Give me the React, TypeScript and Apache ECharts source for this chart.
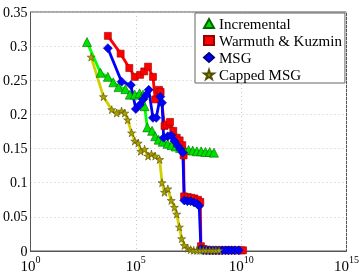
import React, { useEffect, useRef } from "react";
import * as echarts from "echarts";

const seriesNames = ["Incremental", "Warmuth & Kuzmin", "MSG", "Capped MSG"];

const incX = [4.8e2, 2.1e3, 4.7e3, 8.5e3, 1.5e4, 3.2e4, 5.2e4, 8.9e4, 1.5e5, 2.2e5, 2.6e5, 3.5e5, 5.9e5, 8.3e5, 1.2e6, 1.9e6, 3.2e6, 5.0e6, 7.9e6, 1.26e7, 2.0e7, 3.2e7, 5.0e7, 7.9e7, 1.26e8, 2.0e8, 3.2e8, 5.1e8];
const incY = [0.306, 0.261, 0.255, 0.247, 0.240, 0.237, 0.229, 0.229, 0.231, 0.229, 0.212, 0.181, 0.176, 0.168, 0.163, 0.160, 0.157, 0.155, 0.153, 0.151, 0.149, 0.148, 0.147, 0.146, 0.146, 0.145, 0.145, 0.144];

const wkX = [4.7e3, 1.9e4, 4.9e4, 8.9e4, 1.6e5, 2.5e5, 3.8e5, 6.5e5, 8.3e5, 1.26e6, 1.5e6, 2.3e6, 2.95e6, 4.2e6, 6.0e6, 8.7e6, 1.2e7, 1.6e7, 1.86e7, 1.95e7, 2.9e7, 4.2e7, 6.0e7, 8.9e7, 1.15e8, 1.23e8, 1.6e8, 2.2e8, 3.2e8, 4.5e8, 6.3e8, 8.9e8, 1.26e9, 1.8e9, 2.5e9, 3.5e9, 5.0e9, 7.1e9, 1.0e10, 1.23e10];
const wkY = [0.315, 0.289, 0.268, 0.255, 0.258, 0.263, 0.270, 0.255, 0.222, 0.236, 0.233, 0.183, 0.185, 0.189, 0.176, 0.166, 0.162, 0.155, 0.140, 0.080, 0.079, 0.078, 0.077, 0.075, 0.072, 0.007, 0.003, 0.002, 0.001, 0.001, 0.001, 0.001, 0.001, 0.001, 0.001, 0.001, 0.001, 0.001, 0.001, 0.001];

const msgX = [4.7e3, 2.1e4, 5.8e4, 1.0e5, 1.55e5, 2.2e5, 3.0e5, 4.1e5, 6.5e5, 9.3e5, 1.45e6, 1.75e6, 2.1e6, 3.3e6, 4.8e6, 6.8e6, 9.8e6, 1.3e7, 1.7e7, 2.0e7, 2.8e7, 4.0e7, 5.9e7, 8.3e7, 1.02e8, 1.23e8, 1.6e8, 2.2e8, 3.2e8, 4.5e8, 6.3e8, 8.9e8, 1.26e9, 1.8e9, 2.5e9, 3.5e9, 5.0e9, 7.8e9];
const msgY = [0.297, 0.248, 0.243, 0.208, 0.214, 0.222, 0.228, 0.236, 0.195, 0.195, 0.226, 0.217, 0.166, 0.168, 0.169, 0.161, 0.154, 0.149, 0.144, 0.074, 0.073, 0.073, 0.071, 0.069, 0.066, 0.003, 0.001, 0.001, 0.001, 0.001, 0.001, 0.001, 0.001, 0.001, 0.001, 0.001, 0.001, 0.001];

const capX = [7.6e2, 2.9e3, 7.2e3, 1.23e4, 2.1e4, 3.0e4, 4.1e4, 6.3e4, 8.9e4, 1.3e5, 1.7e5, 2.6e5, 3.8e5, 5.5e5, 8.3e5, 1.35e6, 1.75e6, 2.3e6, 3.3e6, 4.8e6, 6.8e6, 8.7e6, 1.17e7, 1.5e7, 2.0e7, 2.9e7, 4.0e7, 5.6e7, 7.9e7, 1.12e8, 1.6e8, 2.2e8, 3.2e8, 4.5e8, 6.3e8, 8.9e8];
const capY = [0.284, 0.226, 0.207, 0.202, 0.205, 0.202, 0.192, 0.173, 0.161, 0.158, 0.146, 0.149, 0.139, 0.142, 0.139, 0.134, 0.100, 0.086, 0.091, 0.074, 0.064, 0.054, 0.035, 0.018, 0.008, 0.004, 0.002, 0.001, 0.001, 0.001, 0.001, 0.001, 0.001, 0.001, 0.001, 0.001];

const yTicks = [0, 0.05, 0.1, 0.15, 0.2, 0.25, 0.3, 0.35];
const xExponents = [0, 5, 10, 15];

const FONT = "'Liberation Serif', 'Times New Roman', serif";
const STAR = "path://M50,0 L61,35 L98,35 L68,57 L79,91 L50,70 L21,91 L32,57 L2,35 L39,35 Z";

function zip(xs: number[], ys: number[]) {
  return xs.map((x, i) => [x, ys[i]]);
}

export default function App() {
  const ref = useRef<HTMLDivElement>(null);
  useEffect(() => {
    if (!ref.current) return;
    const chart = echarts.init(ref.current, null, { renderer: "svg" });
    const mk = (name: string, xs: number[], ys: number[], line: string, fill: string, edge: string, symbol: string, size: number) => ({
      name,
      type: "line",
      data: zip(xs, ys),
      symbol,
      symbolSize: size,
      showAllSymbol: true,
      lineStyle: { color: line, width: 2.8 },
      itemStyle: { color: fill, borderColor: edge, borderWidth: 0.6 },
      emphasis: { disabled: true },
    });
    chart.setOption({
      animation: false,
      grid: { left: 28, right: 15, top: 12, bottom: 21, show: true, borderColor: "#555", borderWidth: 1, backgroundColor: "transparent" },
      legend: {
        orient: "vertical",
        left: 195,
        top: 13,
        padding: [3, 3, 1, 8],
        itemGap: 2,
        itemWidth: 10,
        itemHeight: 9,
        backgroundColor: "#fff",
        borderColor: "#666",
        borderWidth: 1,
        textStyle: { fontFamily: FONT, fontSize: 15, color: "#000" },
        data: [
          { name: seriesNames[0], icon: "triangle" },
          { name: seriesNames[1], icon: "rect" },
          { name: seriesNames[2], icon: "diamond" },
          { name: seriesNames[3], icon: STAR },
        ],
      },
      xAxis: {
        type: "log",
        logBase: 10,
        min: Math.pow(10, xExponents[0]),
        max: Math.pow(10, xExponents[xExponents.length - 1]),
        interval: 5,
        axisLine: { show: true, lineStyle: { color: "#555" } },
        axisTick: { show: false },
        splitLine: { show: true, lineStyle: { color: "#c8c8c8", type: [1, 3] } },
        axisLabel: {
          margin: 3,
          formatter: (v: number) => `{b|10}{s|${Math.round(Math.log10(v))}}`,
          rich: {
            b: { fontFamily: FONT, fontSize: 15, color: "#000", lineHeight: 19, verticalAlign: "bottom" },
            s: { fontFamily: FONT, fontSize: 10, color: "#000", lineHeight: 10, verticalAlign: "top" },
          },
        },
      },
      yAxis: {
        type: "value",
        min: yTicks[0],
        max: yTicks[yTicks.length - 1],
        interval: 0.05,
        axisLine: { show: true, lineStyle: { color: "#555" } },
        axisTick: { show: false },
        splitLine: { show: true, lineStyle: { color: "#c8c8c8", type: [1, 3] } },
        axisLabel: { margin: 3, fontFamily: FONT, fontSize: 14, color: "#000", formatter: (v: number) => String(Math.round(v * 100) / 100) },
      },
      series: [
        mk(seriesNames[0], incX, incY, "#00ff00", "#00e000", "#006600", "triangle", 9),
        mk(seriesNames[1], wkX, wkY, "#ff0000", "#ff0000", "#990000", "rect", 7),
        mk(seriesNames[2], msgX, msgY, "#0000ff", "#0000ff", "#000080", "diamond", 9),
        mk(seriesNames[3], capX, capY, "#d0d000", "#b0a000", "#505000", STAR, 8),
      ],
    });
    return () => chart.dispose();
  }, []);
  return <div ref={ref} style={{ position: "fixed", left: 0, top: 0, width: 362, height: 273 }} />;
}
